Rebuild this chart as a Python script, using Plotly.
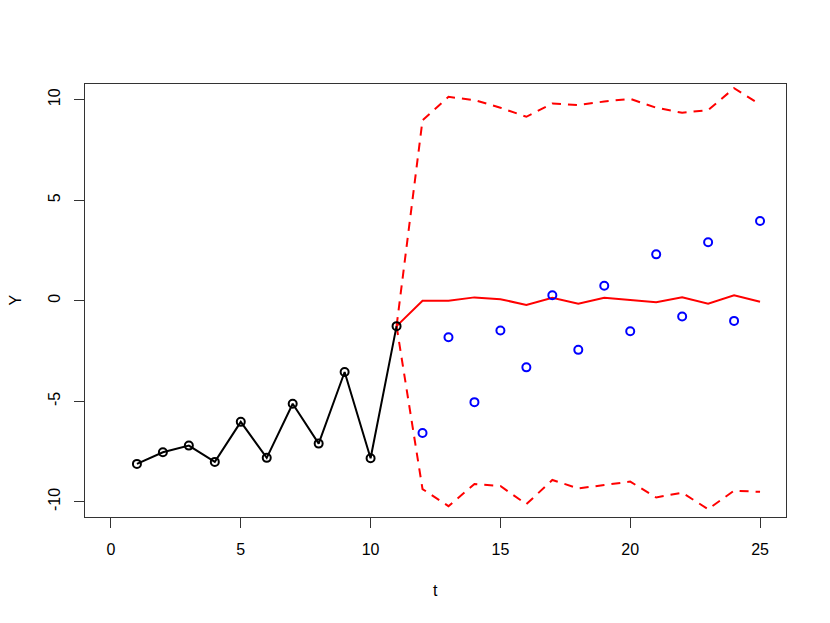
import plotly.graph_objects as go

# Observed series (t = 1..11)
t_obs = [1, 2, 3, 4, 5, 6, 7, 8, 9, 10, 11]
y_obs = [-8.11, -7.53, -7.20, -8.01, -6.02, -7.81, -5.12, -7.10, -3.54, -7.83, -1.26]

# Hold-out actual values (t = 12..25)
t_new = [12, 13, 14, 15, 16, 17, 18, 19, 20, 21, 22, 23, 24, 25]
y_new = [-6.57, -1.81, -5.04, -1.48, -3.31, 0.28, -2.44, 0.75, -1.51, 2.31, -0.78, 2.91, -1.00, 3.97]

# Forecast and bounds (t = 11..25)
t_fc = [11, 12, 13, 14, 15, 16, 17, 18, 19, 20, 21, 22, 23, 24, 25]
y_fc = [-1.26, 0.0, 0.0, 0.17, 0.08, -0.21, 0.15, -0.15, 0.15, 0.03, -0.07, 0.17, -0.15, 0.27, -0.05]
y_up = [-1.26, 8.98, 10.14, 9.98, 9.60, 9.15, 9.81, 9.73, 9.91, 10.04, 9.60, 9.35, 9.48, 10.57, 9.76]
y_lo = [-1.26, -9.36, -10.21, -9.11, -9.21, -10.11, -8.91, -9.33, -9.16, -8.99, -9.78, -9.54, -10.36, -9.44, -9.50]

x_ticks = [0, 5, 10, 15, 20, 25]
y_ticks = [-10, -5, 0, 5, 10]

FONT = "Liberation Sans, Arial, Helvetica, sans-serif"

fig = go.Figure()

fig.add_trace(go.Scatter(x=t_fc, y=y_up, mode="lines",
                         line=dict(color="#FF0000", width=2, dash="9px,7px"), showlegend=False))
fig.add_trace(go.Scatter(x=t_fc, y=y_lo, mode="lines",
                         line=dict(color="#FF0000", width=2, dash="9px,7px"), showlegend=False))
fig.add_trace(go.Scatter(x=t_fc, y=y_fc, mode="lines",
                         line=dict(color="#FF0000", width=2), showlegend=False))
fig.add_trace(go.Scatter(x=t_obs, y=y_obs, mode="lines+markers",
                         line=dict(color="black", width=2),
                         marker=dict(symbol="circle-open", size=8, color="black",
                                     line=dict(width=2, color="black")),
                         showlegend=False))
fig.add_trace(go.Scatter(x=t_new, y=y_new, mode="markers",
                         marker=dict(symbol="circle-open", size=8, color="#0000FF",
                                     line=dict(width=2, color="#0000FF")),
                         showlegend=False))

axis_common = dict(showgrid=False, zeroline=False, showline=True, mirror=True,
                   linecolor="#333333", linewidth=1, ticks="outside", ticklen=10,
                   tickwidth=1, tickcolor="#333333",
                   tickfont=dict(family=FONT, size=16, color="black"))

fig.update_xaxes(range=[-1, 26], tickmode="array", tickvals=x_ticks,
                 ticktext=[str(v) for v in x_ticks], ticklabelstandoff=8, **axis_common)
fig.update_yaxes(range=[-10.75, 10.78], tickmode="array", tickvals=y_ticks,
                 ticktext=[str(v) for v in y_ticks], tickangle=-90,
                 ticklabelstandoff=8, **axis_common)

# The page body has an 8px default margin, so the figure is sized to fit inside.
fig.update_layout(
    width=822, height=615,
    margin=dict(l=77, r=44, t=76, b=106),
    paper_bgcolor="white", plot_bgcolor="white",
    font=dict(family=FONT, size=16, color="black"),
    annotations=[
        dict(text="t", xref="paper", yref="paper", x=0.5, y=0, yanchor="middle",
             xanchor="center", yshift=-73, showarrow=False, font=dict(size=16)),
        dict(text="Y", xref="paper", yref="paper", x=0, y=0.5, xanchor="center",
             yanchor="middle", xshift=-70, textangle=-90, showarrow=False,
             font=dict(size=16)),
    ],
)

fig.write_html("out.html")
